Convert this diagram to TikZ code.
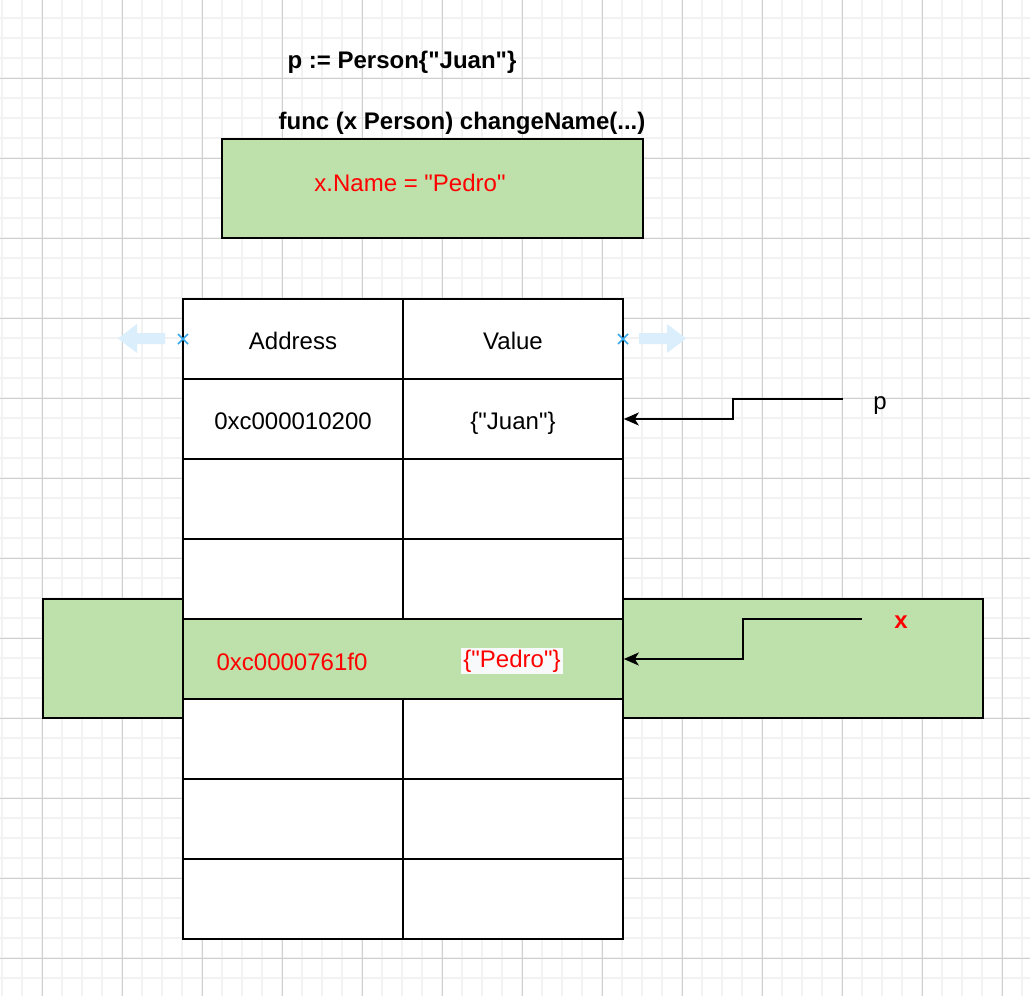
\documentclass[tikz,border=0pt]{standalone}
\usepackage{fontspec}
\newfontfamily\lsans{Liberation Sans}
\usetikzlibrary{arrows.meta}
\definecolor{gfill}{RGB}{190,224,170}
\definecolor{gminor}{RGB}{242,242,242}
\definecolor{gmajor}{RGB}{208,208,208}
\definecolor{txtred}{RGB}{255,0,0}
\definecolor{hblue}{RGB}{218,238,252}
\definecolor{xblue}{RGB}{52,170,236}
\definecolor{pedrobg}{RGB}{248,249,250}
\begin{document}
\begin{tikzpicture}[x=1pt,y=-1pt,
  txt/.style={font=\lsans\fontsize{24}{28}\selectfont, inner sep=0pt},
  btxt/.style={font=\lsans\fontsize{24}{28}\selectfont\bfseries, inner sep=0pt},
  cell/.style={draw=black, line width=1.6pt, fill=white, minimum width=220pt, minimum height=80pt, inner sep=0pt, text height=22pt, text depth=1pt, font=\lsans\fontsize{24}{28}\selectfont},
  greenbox/.style={draw=black, line width=1.6pt, fill=gfill, inner sep=0pt},
  conn/.style={line width=1.6pt, -{Stealth[length=15pt,width=13pt,inset=4pt]}},
  cross/.style={xblue, line width=1.5pt},
]
\useasboundingbox (0,0) rectangle (1030,996);
\fill[white] (0,0) rectangle (1030,996);
% grid
\foreach \i in {2,22,...,1022} \draw[gminor, line width=1.6pt] (\i,0) -- (\i,996);
\foreach \j in {18,38,...,996} \draw[gminor, line width=1.6pt] (0,\j) -- (1030,\j);
\foreach \i in {42,122,...,1022} \draw[gmajor, line width=0.9pt] (\i,0) -- (\i,996);
\foreach \j in {78,158,...,996} \draw[gmajor, line width=0.9pt] (0,\j) -- (1030,\j);

% titles
\node[btxt] (t1) at (402,62) {p := Person\{"Juan"\}};
\node[btxt] (t2) at (462,123) {func (x Person) changeName(...)};

% function box
\node[greenbox, minimum width=421pt, minimum height=99pt] (fbox) at (432.5,188.5) {};
\node[txt, text=txtred] (fcode) at (410,183) {x.Name = "Pedro"};

% x frame behind table
\node[greenbox, minimum width=940pt, minimum height=119pt] (xframe) at (513,658.5) {};

% table
\node[cell] (a0) at (293,339) {Address};
\node[cell] (b0) at (513,339) {Value};
\node[cell] (a1) at (293,419) {0xc000010200};
\node[cell] (b1) at (513,419) {\{"Juan"\}};
\foreach \r/\y in {2/499,3/579,5/739,6/819,7/899} {
  \node[cell] (a\r) at (293,\y) {};
  \node[cell] (b\r) at (513,\y) {};
}
\node[cell, fill=gfill, minimum width=440pt] (r4) at (403,659) {};
\node[txt, text=txtred] (addr4) at (292,662) {0xc0000761f0};
\node[txt, text=txtred, fill=pedrobg, inner sep=2pt] (val4) at (512,661) {\{"Pedro"\}};

% connectors
\coordinate (pstart) at (843,399);
\node[txt] (plabel) at (880,406) {p};
\draw[conn] (pstart) -- ++(-110,0) |- (b1.east);

\coordinate (xstart) at (862,619);
\node[btxt, text=txtred] (xlabel) at (901,622) {x};
\draw[conn] (xstart) -- ++(-119,0) |- (r4.east);

% selection handles
\fill[hblue] (165,333) -- (137,333) -- (137,324) -- (118,338.5) -- (137,353) -- (137,344) -- (165,344) -- cycle;
\fill[hblue] (639,333) -- (667,333) -- (667,324) -- (686,338.5) -- (667,353) -- (667,344) -- (639,344) -- cycle;
\draw[cross] (178,334) -- (188,344) (178,344) -- (188,334);
\draw[cross] (618,334) -- (628,344) (618,344) -- (628,334);
\end{tikzpicture}
\end{document}
